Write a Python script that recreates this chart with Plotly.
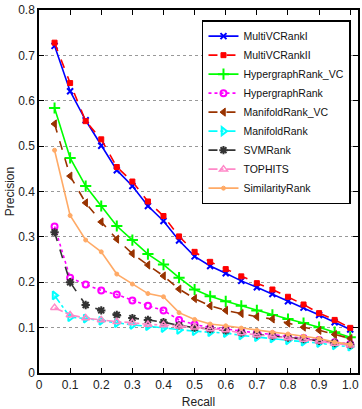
import plotly.graph_objects as go

recall = [0.05, 0.10, 0.15, 0.20, 0.25, 0.30, 0.35, 0.40, 0.45, 0.50,
          0.55, 0.60, 0.65, 0.70, 0.75, 0.80, 0.85, 0.90, 0.95, 1.00]

multi_vc_rank_1 = [0.721, 0.621, 0.557, 0.501, 0.447, 0.412, 0.368, 0.335, 0.292, 0.257,
                   0.236, 0.220, 0.203, 0.189, 0.174, 0.158, 0.144, 0.128, 0.112, 0.096]
multi_vc_rank_2 = [0.728, 0.639, 0.555, 0.515, 0.454, 0.422, 0.378, 0.346, 0.301, 0.267,
                   0.245, 0.229, 0.213, 0.198, 0.184, 0.168, 0.151, 0.132, 0.117, 0.0995]
hypergraph_vc = [0.584, 0.474, 0.412, 0.368, 0.324, 0.293, 0.262, 0.239, 0.210, 0.184,
                 0.169, 0.158, 0.148, 0.138, 0.128, 0.119, 0.110, 0.101, 0.090, 0.079]
hypergraph = [0.323, 0.210, 0.195, 0.182, 0.173, 0.160, 0.148, 0.138, 0.117, 0.107,
              0.100, 0.097, 0.092, 0.088, 0.085, 0.080, 0.077, 0.073, 0.068, 0.064]
manifold_vc = [0.549, 0.434, 0.375, 0.333, 0.295, 0.263, 0.238, 0.214, 0.185, 0.164,
               0.148, 0.138, 0.131, 0.124, 0.119, 0.110, 0.101, 0.094, 0.085, 0.076]
manifold = [0.171, 0.123, 0.120, 0.115, 0.110, 0.106, 0.103, 0.099, 0.095, 0.092,
            0.090, 0.088, 0.083, 0.079, 0.076, 0.072, 0.069, 0.066, 0.061, 0.058]
svm_rank = [0.310, 0.200, 0.150, 0.138, 0.128, 0.121, 0.117, 0.112, 0.105, 0.100,
            0.097, 0.094, 0.089, 0.085, 0.082, 0.078, 0.075, 0.071, 0.066, 0.062]
tophits = [0.144, 0.128, 0.121, 0.117, 0.113, 0.111, 0.107, 0.106, 0.103, 0.101,
           0.097, 0.095, 0.088, 0.084, 0.081, 0.077, 0.074, 0.070, 0.065, 0.061]
similarity = [0.491, 0.347, 0.293, 0.267, 0.218, 0.196, 0.175, 0.168, 0.133, 0.118,
              0.108, 0.104, 0.099, 0.094, 0.090, 0.086, 0.081, 0.076, 0.068, 0.063]

x_ticks = [0, 0.1, 0.2, 0.3, 0.4, 0.5, 0.6, 0.7, 0.8, 0.9, 1.0]
x_tick_labels = ["0", "0.1", "0.2", "0.3", "0.4", "0.5", "0.6", "0.7", "0.8", "0.9", "1.0"]
y_ticks = [0, 0.1, 0.2, 0.3, 0.4, 0.5, 0.6, 0.7, 0.8]
y_tick_labels = ["0", "0.1", "0.2", "0.3", "0.4", "0.5", "0.6", "0.7", "0.8"]

series = [
    ("MultiVCRankI", multi_vc_rank_1, "#0000FF", "solid", "x-thin-open", 6, 2),
    ("MultiVCRankII", multi_vc_rank_2, "#FF0000", "dash", "square", 5, 1),
    ("HypergraphRank_VC", hypergraph_vc, "#00FF00", "solid", "cross-thin-open", 8, 2),
    ("HypergraphRank", hypergraph, "#FF00FF", "dot", "circle-open", 6, 2),
    ("ManifoldRank_VC", manifold_vc, "#993300", "dash", "triangle-left", 7, 1),
    ("ManifoldRank", manifold, "#00FFFF", "dashdot", "triangle-right-open", 7, 2),
    ("SVMRank", svm_rank, "#333333", "dash", "asterisk-open", 7, 2),
    ("TOPHITS", tophits, "#FF88C8", "dashdot", "triangle-up-open", 7, 1.5),
    ("SimilarityRank", similarity, "#FFAA66", "solid", "circle", 4, 1),
]

fig = go.Figure()
for name, vals, color, dash, sym, size, mlw in series:
    fig.add_trace(go.Scatter(
        x=recall, y=vals, name=name, mode="lines+markers",
        line=dict(color=color, width=1.6, dash=dash),
        marker=dict(symbol=sym, size=size, color=color,
                    line=dict(color=color, width=mlw)),
    ))

font_family = "Liberation Sans, Arial, sans-serif"

fig.update_layout(
    width=362, height=409,
    margin=dict(l=39, r=2, t=10, b=29),
    paper_bgcolor="white", plot_bgcolor="white",
    font=dict(family=font_family, size=12, color="#222222"),
    showlegend=True,
    legend=dict(
        x=0.978, y=0.972, xanchor="right", yanchor="top",
        bgcolor="white", bordercolor="black", borderwidth=1.5,
        font=dict(family=font_family, size=10.5, color="#111111"),
        tracegroupgap=0, itemwidth=30,
    ),
    xaxis=dict(
        range=[0, 1.025], tickmode="array", tickvals=x_ticks, ticktext=x_tick_labels,
        showgrid=False, zeroline=False,
        showline=True, linecolor="black", linewidth=1.5, mirror="ticks",
        ticks="inside", ticklen=5, tickcolor="black",
        tickfont=dict(size=12),
        title=dict(text="Recall", font=dict(size=12), standoff=6),
    ),
    yaxis=dict(
        range=[0, 0.8], tickmode="array", tickvals=y_ticks, ticktext=y_tick_labels,
        showgrid=True, gridcolor="#999999", griddash="dot", gridwidth=1,
        zeroline=False,
        showline=True, linecolor="black", linewidth=1.5, mirror="ticks",
        ticks="inside", ticklen=5, tickcolor="black",
        tickfont=dict(size=12),
        title=dict(text="Precision", font=dict(size=12), standoff=1),
    ),
)

fig.write_html("out.html")
